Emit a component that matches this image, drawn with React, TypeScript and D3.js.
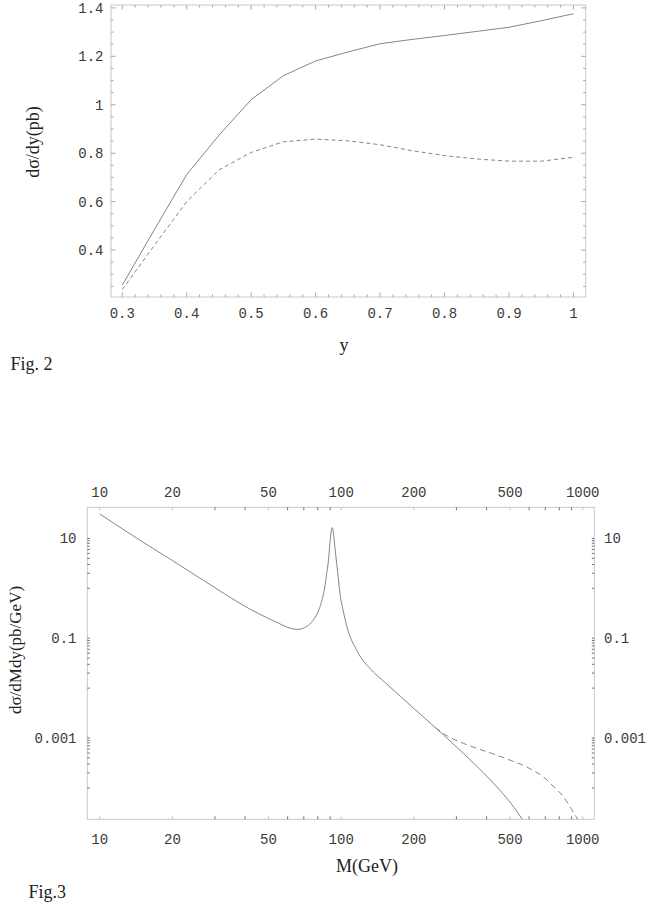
import * as d3 from 'd3'
import { useEffect, useRef } from 'react'

// Fig. 2 : d sigma / dy against y
const rapidity = [0.3, 0.35, 0.4, 0.45, 0.5, 0.55, 0.6, 0.65, 0.7, 0.75, 0.8, 0.85, 0.9, 0.95, 1.0]
const solidY = [0.255, 0.485, 0.712, 0.874, 1.021, 1.12, 1.181, 1.218, 1.252, 1.27, 1.286, 1.303, 1.32, 1.347, 1.376]
const dashedY = [0.237, 0.42, 0.6, 0.731, 0.803, 0.847, 0.858, 0.851, 0.835, 0.81, 0.79, 0.776, 0.767, 0.767, 0.783]
const fig2XTicks = [0.3, 0.4, 0.5, 0.6, 0.7, 0.8, 0.9, 1]
const fig2YTicks = [0.4, 0.6, 0.8, 1, 1.2, 1.4]

// Fig. 3 : d sigma / dM dy against M, log-log
const massSolid = [10, 15, 20, 26, 30, 36, 42, 49, 55, 60, 66, 72, 76, 80, 83, 85, 87, 88.5, 90, 91, 91.8, 92.6, 93.6, 95, 96.5, 99, 102, 106, 116, 136, 150, 176, 200, 245, 275, 321, 360, 415, 470, 520, 565, 600]
const valueSolid = [31, 8.6, 3.6, 1.6, 1.03, 0.59, 0.38, 0.26, 0.2, 0.165, 0.15, 0.172, 0.22, 0.33, 0.55, 0.9, 1.9, 3.5, 9, 14.5, 16.5, 14, 9, 4.5, 2.3, 0.75, 0.35, 0.16, 0.057, 0.021, 0.0137, 0.0068, 0.0039, 0.00163, 0.00098, 0.000489, 0.000288, 0.000144, 0.0000743, 0.0000405, 0.0000226, 0.000014]
const massDashed = [245, 275, 321, 380, 443, 500, 556, 608, 684, 760, 835, 900, 964, 1000]
const valueDashed = [0.00163, 0.0011, 0.00078, 0.00058, 0.00045, 0.00036, 0.000295, 0.00024, 0.00017, 0.000105, 0.000065, 0.000037, 0.000021, 0.000014]
const fig3XTicks = [10, 20, 50, 100, 200, 500, 1000]
const fig3YTicks = [10, 0.1, 0.001]

const MONO = '"Liberation Mono", "DejaVu Sans Mono", monospace'
const SERIF = '"Liberation Serif", "DejaVu Serif", serif'
const FRAME = '#c8c8c8'
const CURVE = '#858585'
const LABEL = '#3a3a3a'

type G = d3.Selection<SVGGElement, unknown, null, undefined>

const tick = (g: G, x1: number, y1: number, x2: number, y2: number, color: string) => {
  g.append('line')
    .attr('x1', x1).attr('y1', y1)
    .attr('x2', x2).attr('y2', y2)
    .attr('stroke', color)
    .attr('stroke-width', 1)
}

const drawFig2 = (g: G) => {
  const x = d3.scaleLinear().domain([0.2825, 1.019]).range([111, 585.7])
  const y = d3.scaleLinear().domain([0.206, 1.412]).range([297, 5])
  const [x0, x1] = x.range()
  const [y0, y1] = y.range()

  g.append('rect')
    .attr('x', x0).attr('y', y1)
    .attr('width', x1 - x0).attr('height', y0 - y1)
    .attr('fill', 'none')
    .attr('stroke', FRAME)

  // x ticks every 0.02, major every 0.1 (all four sides point inward)
  d3.range(15, 51).forEach(i => {
    const v = i / 50
    const major = i % 5 === 0
    const len = major ? 4.5 : 2.5
    const px = x(v)
    tick(g, px, y0, px, y0 - len, '#a8a8a8')
    tick(g, px, y1, px, y1 + len, '#a8a8a8')
  })
  // y ticks every 0.05, major every 0.2
  d3.range(5, 29).forEach(i => {
    const v = i / 20
    const major = i % 4 === 0
    const len = major ? 4.5 : 2.5
    const py = y(v)
    tick(g, x0, py, x0 + len, py, '#a8a8a8')
    tick(g, x1, py, x1 - len, py, '#a8a8a8')
  })

  g.selectAll('.xl')
    .data(fig2XTicks)
    .enter()
    .append('text')
    .attr('x', d => x(d))
    .attr('y', 318)
    .attr('text-anchor', 'middle')
    .style('font-family', MONO)
    .style('font-size', '14px')
    .style('fill', LABEL)
    .text(d => String(d))

  g.selectAll('.yl')
    .data(fig2YTicks)
    .enter()
    .append('text')
    .attr('x', 103.5)
    .attr('y', d => y(d) + 5)
    .attr('text-anchor', 'end')
    .style('font-family', MONO)
    .style('font-size', '14px')
    .style('fill', LABEL)
    .text(d => String(d))

  const line = d3.line<number>()
    .x((_, i) => x(rapidity[i]))
    .y(d => y(d))

  g.append('path')
    .attr('d', line(solidY))
    .attr('fill', 'none')
    .attr('stroke', CURVE)
    .attr('stroke-width', 1)

  g.append('path')
    .attr('d', line(dashedY))
    .attr('fill', 'none')
    .attr('stroke', CURVE)
    .attr('stroke-width', 1)
    .attr('stroke-dasharray', '4,3')

  g.append('text')
    .attr('transform', 'translate(33,142) rotate(-90)')
    .attr('text-anchor', 'middle')
    .attr('dy', '0.35em')
    .style('font-family', SERIF)
    .style('font-size', '18px')
    .style('fill', '#222')
    .text('dσ/dy(pb)')

  g.append('text')
    .attr('x', 344)
    .attr('y', 351)
    .attr('text-anchor', 'middle')
    .style('font-family', SERIF)
    .style('font-size', '18px')
    .style('fill', '#222')
    .text('y')

  g.append('text')
    .attr('x', 10.5)
    .attr('y', 370)
    .style('font-family', SERIF)
    .style('font-size', '18px')
    .style('fill', '#222')
    .text('Fig. 2')
}

const drawFig3 = (g: G) => {
  const x = d3.scaleLog().domain([8.885, 1117]).range([87.3, 594.3])
  const y = d3.scaleLog().domain([2.35e-5, 42]).range([819.3, 507.3])
  const [x0, x1] = x.range()
  const [y0, y1] = y.range()

  g.append('clipPath')
    .attr('id', 'fig3-clip')
    .append('rect')
    .attr('x', x0).attr('y', y1)
    .attr('width', x1 - x0).attr('height', y0 - y1)

  g.append('rect')
    .attr('x', x0).attr('y', y1)
    .attr('width', x1 - x0).attr('height', y0 - y1)
    .attr('fill', 'none')
    .attr('stroke', FRAME)

  // x ticks at m * 10^k, labelled ones drawn lighter
  const xTicks = [10, 100].flatMap(p => d3.range(1, 10).map(m => m * p)).concat([1000])
  xTicks.forEach(v => {
    const labelled = fig3XTicks.includes(v)
    const color = labelled ? '#c4c4c4' : '#707070'
    const px = x(v)
    tick(g, px, y0, px, y0 - 3, color)
    tick(g, px, y1, px, y1 + 3, color)
  })
  // y ticks: labelled decade and its lower decade m * 10^(k-1)
  const yTicks = fig3YTicks.flatMap(L => [L].concat(d3.range(1, 10).map(m => (m * L) / 10)))
  yTicks.forEach(v => {
    const py = y(v)
    tick(g, x0, py, x0 + 2.5, py, '#707070')
    tick(g, x1, py, x1 - 2.5, py, '#707070')
  })

  const label = (px: number, py: number, anchor: string, t: string) => {
    g.append('text')
      .attr('x', px)
      .attr('y', py)
      .attr('text-anchor', anchor)
      .style('font-family', MONO)
      .style('font-size', '14px')
      .style('fill', LABEL)
      .text(t)
  }
  fig3XTicks.forEach(v => {
    label(x(v), 496.7, 'middle', String(v))
    label(x(v), 844, 'middle', String(v))
  })
  fig3YTicks.forEach(v => {
    label(76.5, y(v) + 5, 'end', String(v))
    label(604, y(v) + 5, 'start', String(v))
  })

  const solid = d3.line<number>()
    .x((_, i) => x(massSolid[i]))
    .y(d => y(d))
    .curve(d3.curveMonotoneX)
  const dashed = d3.line<number>()
    .x((_, i) => x(massDashed[i]))
    .y(d => y(d))
    .curve(d3.curveMonotoneX)

  const curves = g.append('g').attr('clip-path', 'url(#fig3-clip)')
  curves.append('path')
    .attr('d', dashed(valueDashed))
    .attr('fill', 'none')
    .attr('stroke', CURVE)
    .attr('stroke-width', 1)
    .attr('stroke-dasharray', '6,4')
  curves.append('path')
    .attr('d', solid(valueSolid))
    .attr('fill', 'none')
    .attr('stroke', CURVE)
    .attr('stroke-width', 1)

  g.append('text')
    .attr('transform', 'translate(15,650) rotate(-90)')
    .attr('text-anchor', 'middle')
    .attr('dy', '0.35em')
    .style('font-family', SERIF)
    .style('font-size', '17px')
    .style('fill', '#222')
    .text('dσ/dMdy(pb/GeV)')

  g.append('text')
    .attr('x', 367)
    .attr('y', 872)
    .attr('text-anchor', 'middle')
    .style('font-family', SERIF)
    .style('font-size', '18px')
    .style('fill', '#222')
    .text('M(GeV)')

  g.append('text')
    .attr('x', 28.5)
    .attr('y', 898)
    .style('font-family', SERIF)
    .style('font-size', '18px')
    .style('fill', '#222')
    .text('Fig.3')
}

const App = () => {
  const ref = useRef<SVGSVGElement>(null)

  useEffect(() => {
    if (!ref.current) return
    const svg = d3.select(ref.current)
    svg.selectAll('*').remove()
    drawFig2(svg.append('g'))
    drawFig3(svg.append('g'))
  }, [])

  return (
    <svg
      ref={ref}
      width={654}
      height={904}
      style={{ position: 'absolute', left: 0, top: 0, background: '#fff' }}
    />
  )
}

export default App
